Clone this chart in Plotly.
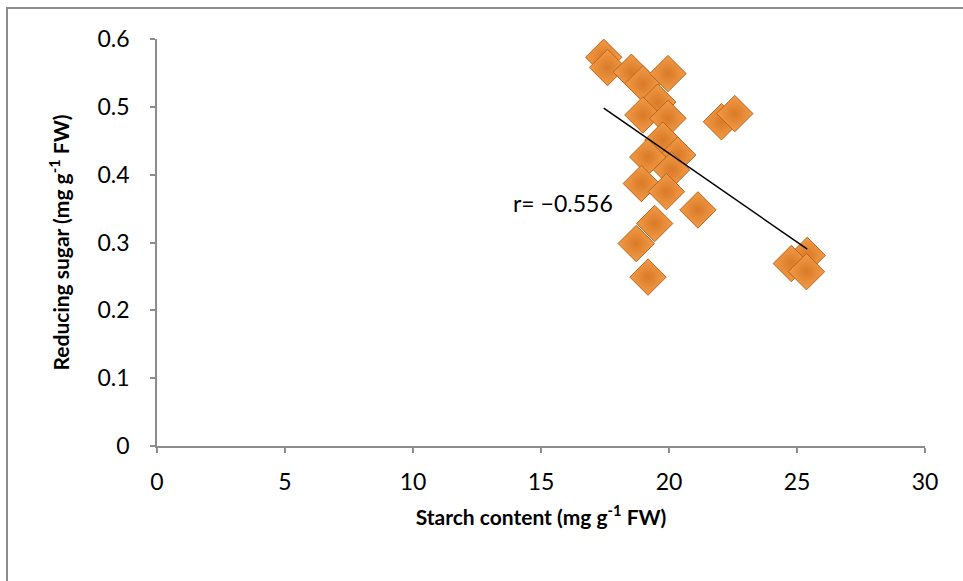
import numpy as np
import plotly.graph_objects as go

starch = [17.45, 17.6, 18.53, 18.98, 19.96, 19.56, 18.98, 19.96, 22.05, 22.57,
          19.76, 20.34, 19.17, 20.1, 18.92, 19.9, 21.13, 19.44, 18.72, 19.18,
          25.4, 24.78, 25.37]
sugar = [0.573, 0.558, 0.551, 0.534, 0.549, 0.507, 0.488, 0.483, 0.478, 0.490,
         0.451, 0.429, 0.426, 0.407, 0.387, 0.375, 0.348, 0.328, 0.2985, 0.249,
         0.281, 0.269, 0.257]
r_label = "r= \u22120.556"
x_ticks = [0, 5, 10, 15, 20, 25, 30]
y_ticks = [0, 0.1, 0.2, 0.3, 0.4, 0.5, 0.6]

xs = np.array(starch)
ys = np.array(sugar)
slope, intercept = np.polyfit(xs, ys, 1)
fit_x = [xs.min(), xs.max()]
fit_y = [slope * v + intercept for v in fit_x]

FONT = "Lato, Calibri, Carlito, sans-serif"

fig = go.Figure()
fig.add_trace(go.Scatter(
    x=starch, y=sugar, mode="markers",
    marker=dict(symbol="diamond", size=28, color="#F39B47",
                gradient=dict(type="radial", color="#D97A27"),
                line=dict(color="#B8661F", width=1)),
    showlegend=False, hoverinfo="x+y"))
fig.add_trace(go.Scatter(
    x=fit_x, y=fit_y, mode="lines",
    line=dict(color="black", width=1.5), showlegend=False, hoverinfo="skip"))

fig.add_annotation(x=15.85, y=0.358, text=r_label, showarrow=False,
                   font=dict(family=FONT, size=23, color="black"))

L, R, T, B = 157, 38, 39, 135
W, H = 963, 581
pw, ph = W - L - R, H - T - B
fig.add_shape(type="rect", xref="paper", yref="paper",
              x0=(7 - L) / pw, x1=(W + 20 - L) / pw,
              y0=-(H + 20 - T - ph) / ph, y1=(H - B - 8) / ph,
              line=dict(color="#8C8C8C", width=2), fillcolor="rgba(0,0,0,0)",
              layer="below")

axis_common = dict(showgrid=False, zeroline=False, showline=True,
                   linecolor="#8C8C8C", linewidth=1.5, ticks="outside",
                   tickcolor="#8C8C8C", ticklen=5, tickwidth=1.5,
                   tickfont=dict(family=FONT, size=23, color="black"))

fig.update_layout(
    width=W, height=H,
    margin=dict(l=L, r=R, t=T, b=B),
    paper_bgcolor="white", plot_bgcolor="white",
    xaxis=dict(range=[0, 30], tickvals=x_ticks, ticktext=[str(v) for v in x_ticks],
               ticklabelstandoff=10,
               title=dict(text="<b>Starch content (mg g<sup>-1</sup> FW)</b>",
                          font=dict(family=FONT, size=21, color="black"),
                          standoff=16),
               **axis_common),
    yaxis=dict(range=[0, 0.6], tickvals=y_ticks,
               ticktext=["0", "0.1", "0.2", "0.3", "0.4", "0.5", "0.6"],
               ticklabelstandoff=16,
               title=dict(text="<b>Reducing sugar (mg g<sup>-1</sup> FW)</b>",
                          font=dict(family=FONT, size=21, color="black"),
                          standoff=22),
               **axis_common),
)

fig.write_html("out.html")
